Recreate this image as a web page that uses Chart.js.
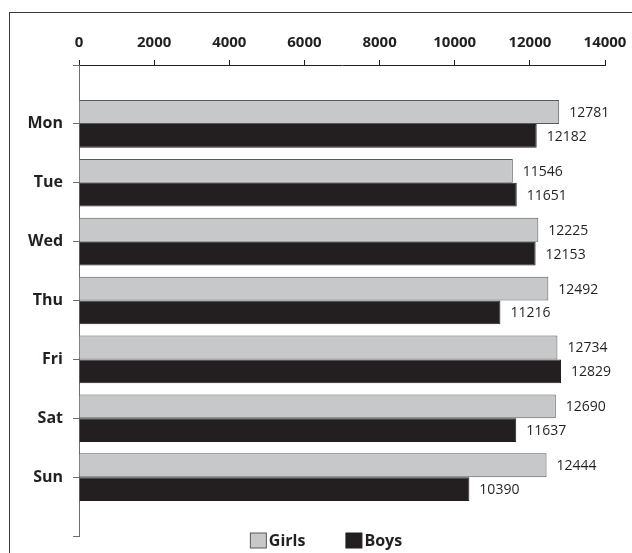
<!DOCTYPE html>
<html>
<head>
<meta charset="utf-8">
<script src="https://cdn.jsdelivr.net/npm/chart.js@4"></script>
<style>
  html, body { margin: 0; padding: 0; background: #fff; overflow: hidden; width: 632px; height: 553px; }
  #frame { position: absolute; left: 9px; top: 12px; width: 800px; height: 800px; border: 1px solid #3a3a3a; box-sizing: border-box; }
  #wrap { position: absolute; left: 20px; top: 0; width: 612px; height: 553px; }
</style>
</head>
<body>
<div id="frame"></div>
<div id="wrap"><canvas id="c" width="612" height="553"></canvas></div>
<script>
const categories = ['Mon', 'Tue', 'Wed', 'Thu', 'Fri', 'Sat', 'Sun'];
const girls = [12781, 11546, 12225, 12492, 12734, 12690, 12444];
const boys = [12182, 11651, 12153, 11216, 12829, 11637, 10390];
const seriesNames = ['Girls', 'Boys'];
const xMin = 0, xMax = 14000, xStep = 2000;

const FONT = "'Open Sans', 'DejaVu Sans', sans-serif";
const INK = '#231f20';
const GRAY = '#c7c8ca';
const EDGE = '#58595b';

const axisLabels = [''].concat(categories, ['']);
const pad = arr => [null].concat(arr, [null]);

const valueLabels = {
  id: 'valueLabels',
  afterDatasetsDraw(chart) {
    const ctx = chart.ctx;
    ctx.save();
    ctx.font = '14px ' + FONT;
    ctx.fillStyle = INK;
    ctx.textAlign = 'left';
    ctx.textBaseline = 'middle';
    chart.data.datasets.forEach((ds, di) => {
      const meta = chart.getDatasetMeta(di);
      meta.data.forEach((el, i) => {
        const v = ds.data[i];
        if (v === null || v === undefined) return;
        ctx.fillText(String(v), el.x + 10, el.y + 1);
      });
    });
    ctx.restore();
  }
};

const customLegend = {
  id: 'customLegend',
  afterDraw(chart) {
    const ctx = chart.ctx;
    ctx.save();
    ctx.font = 'bold 16px ' + FONT;
    ctx.textBaseline = 'middle';
    ctx.textAlign = 'left';
    const boxW = 16, boxH = 15, gapText = 3, gapItem = 40;
    const items = chart.data.datasets.map(ds => ({
      text: ds.label, fill: ds.backgroundColor, stroke: ds.borderColor,
      w: boxW + gapText + ctx.measureText(ds.label).width
    }));
    const total = items.reduce((s, it) => s + it.w, 0) + gapItem * (items.length - 1);
    let x = chart.width / 2 - total / 2;
    const cy = 540;
    items.forEach(it => {
      ctx.fillStyle = it.fill;
      ctx.fillRect(x + 0.5, cy - boxH / 2 + 0.5, boxW, boxH);
      ctx.strokeStyle = it.stroke;
      ctx.lineWidth = 1;
      ctx.strokeRect(x + 0.5, cy - boxH / 2 + 0.5, boxW, boxH);
      ctx.fillStyle = INK;
      ctx.fillText(it.text, x + boxW + gapText, cy + 1);
      x += it.w + gapItem;
    });
    ctx.restore();
  }
};

new Chart(document.getElementById('c'), {
  type: 'bar',
  data: {
    labels: axisLabels,
    datasets: [
      { label: seriesNames[0], data: pad(girls), backgroundColor: GRAY, borderColor: EDGE, borderWidth: 1 },
      { label: seriesNames[1], data: pad(boys), backgroundColor: INK, borderColor: INK, borderWidth: 1 }
    ]
  },
  options: {
    indexAxis: 'y',
    responsive: false,
    animation: false,
    devicePixelRatio: 1,
    categoryPercentage: 0.81,
    barPercentage: 1,
    layout: { padding: { top: 0, right: 27, bottom: 17, left: 0 } },
    plugins: {
      legend: { display: false },
      tooltip: { enabled: false }
    },
    scales: {
      x: {
        position: 'top',
        min: xMin, max: xMax,
        ticks: { stepSize: xStep, padding: 8, color: INK, font: { family: FONT, size: 15, weight: 'bold' }, callback: v => String(v) },
        grid: { drawOnChartArea: false, drawTicks: true, tickLength: 5, color: INK },
        border: { color: INK, width: 1 },
        afterFit(s) { s.height = 65; s.paddingLeft = 0; s.paddingRight = 0; }
      },
      y: {
        type: 'category',
        offset: false,
        ticks: { autoSkip: false, padding: 10, color: INK, font: { family: FONT, size: 16, weight: 'bold' } },
        grid: { offset: false, drawOnChartArea: false, drawTicks: true, tickLength: 6, color: '#6d6e70' },
        border: { color: '#6d6e70', width: 1 },
        afterFit(s) { s.width = 59; s.paddingTop = 0; s.paddingBottom = 0; }
      }
    }
  },
  plugins: [valueLabels, customLegend]
});
</script>
</body>
</html>
